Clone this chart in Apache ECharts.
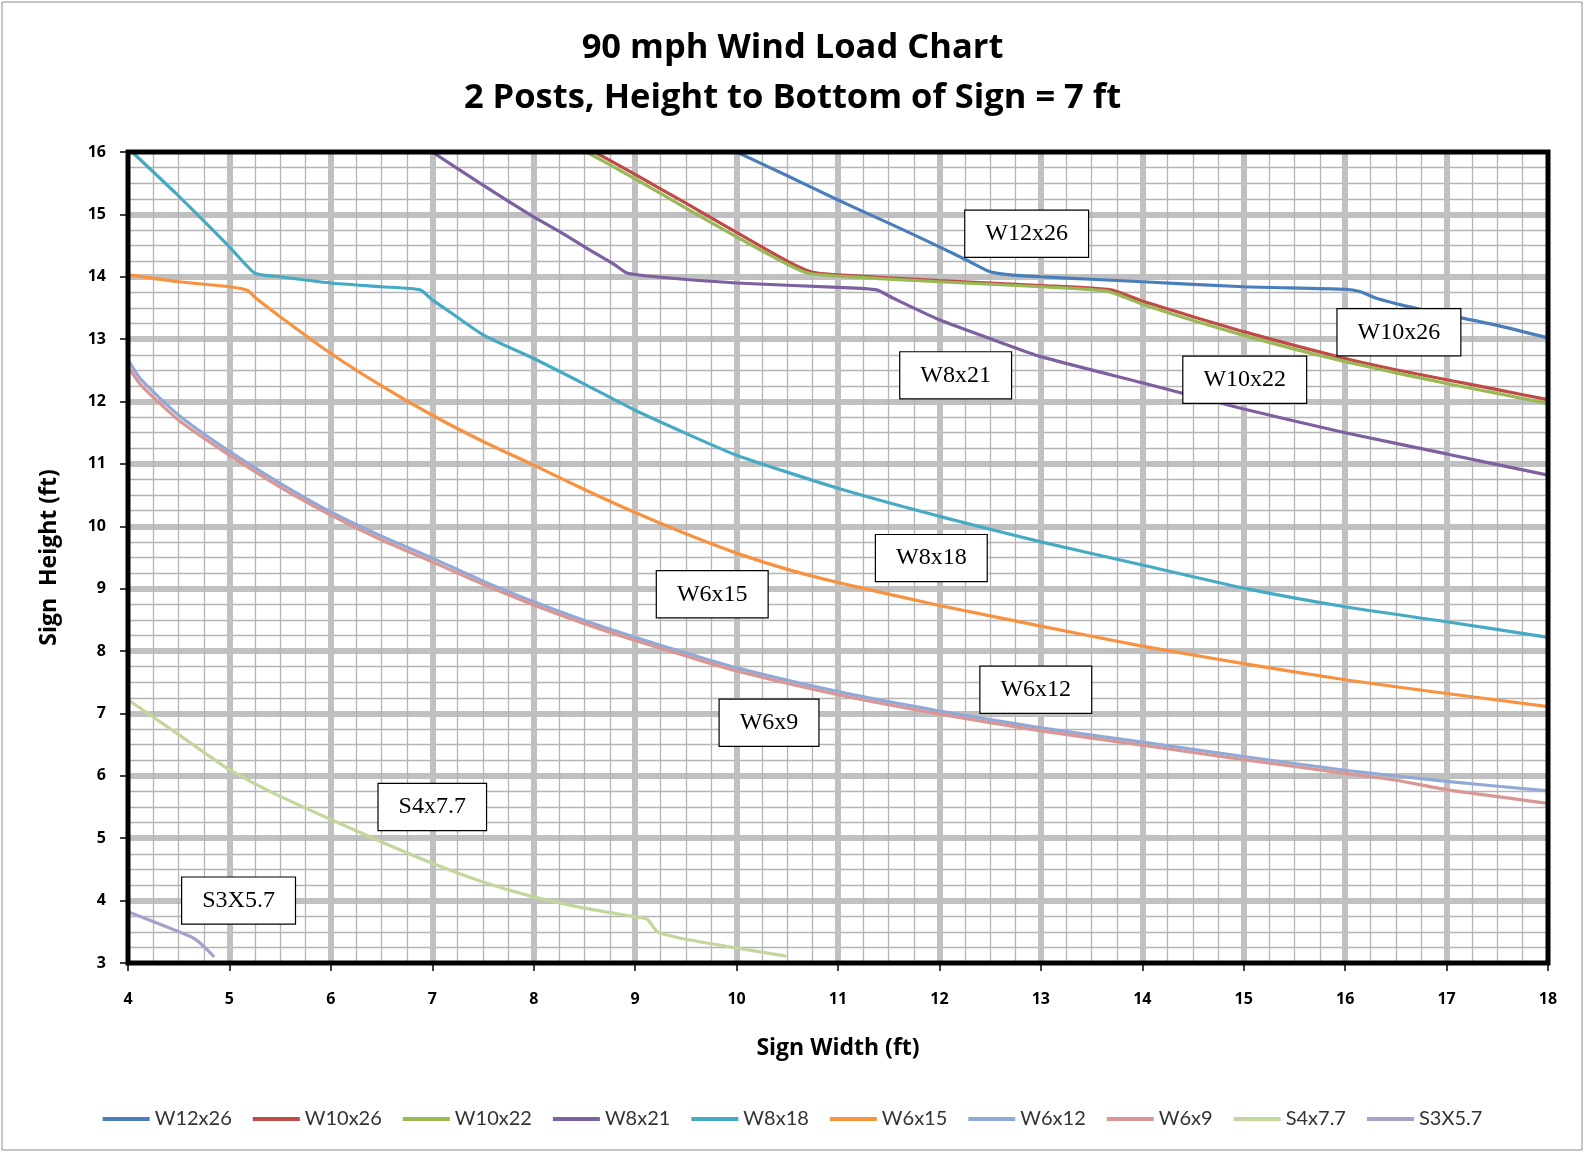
<!DOCTYPE html>
<html>
<head>
<meta charset="utf-8">
<title>90 mph Wind Load Chart</title>
<script src="https://cdn.jsdelivr.net/npm/echarts@6/dist/echarts.min.js"></script>
<style>
    html, body { margin: 0; padding: 0; background: #fff; }
    #chart { width: 1585px; height: 1155px; }
</style>
</head>
<body>
<div id="chart"></div>
<script>
// sign width (ft), sign height (ft) pairs
const names = ['W12x26', 'W10x26', 'W10x22', 'W8x21', 'W8x18', 'W6x15', 'W6x12', 'W6x9', 'S4x7.7', 'S3X5.7'];

const w12x26 = [[10, 16], [10.5, 15.62], [11, 15.23], [11.5, 14.86], [12, 14.48], [12.3, 14.24], [12.5, 14.08], [12.7, 14.03], [13, 14.0], [13.5, 13.96], [14, 13.92], [15, 13.84], [16, 13.8], [16.15, 13.76], [16.3, 13.66], [16.6, 13.53], [17, 13.39], [17.5, 13.22], [18, 13.02]];
const w10x26 = [[8.6, 16.0], [9, 15.64], [9.5, 15.18], [10, 14.71], [10.5, 14.25], [10.75, 14.07], [11, 14.03], [12, 13.94], [13, 13.86], [13.69, 13.79], [14, 13.61], [14.5, 13.36], [15, 13.12], [15.5, 12.9], [16, 12.69], [16.5, 12.51], [17, 12.35], [17.5, 12.19], [18, 12.03]];
const w10x22 = [[8.52, 16.0], [9, 15.57], [9.5, 15.1], [10, 14.64], [10.5, 14.2], [10.7, 14.06], [11, 14.01], [12, 13.92], [13, 13.84], [13.65, 13.77], [14, 13.56], [14.5, 13.3], [15, 13.06], [15.5, 12.84], [16, 12.64], [16.5, 12.46], [17, 12.29], [17.5, 12.13], [18, 11.97]];
const w8x21 = [[7, 16], [7.5, 15.47], [8, 14.96], [8.26, 14.72], [8.5, 14.48], [8.8, 14.19], [8.92, 14.06], [9.2, 14.0], [10, 13.9], [11, 13.83], [11.38, 13.79], [11.54, 13.66], [12, 13.31], [12.53, 12.99], [13, 12.72], [14, 12.3], [15, 11.88], [16, 11.5], [17, 11.16], [18, 10.82]];
const w8x18 = [[4.04, 16.0], [4.47, 15.34], [5, 14.48], [5.25, 14.06], [5.5, 14.0], [6, 13.9], [6.5, 13.84], [6.88, 13.79], [7, 13.63], [7.17, 13.44], [7.5, 13.07], [8, 12.69], [8.5, 12.28], [9, 11.86], [9.5, 11.49], [10, 11.14], [11, 10.61], [12, 10.16], [13, 9.75], [14, 9.38], [15, 9.01], [16, 8.71], [17, 8.47], [18, 8.22]];
const w6x15 = [[4, 14.03], [4.5, 13.92], [5, 13.84], [5.18, 13.78], [5.26, 13.66], [5.5, 13.36], [6, 12.77], [6.5, 12.25], [7, 11.78], [7.5, 11.36], [8, 10.98], [8.5, 10.59], [9, 10.22], [9.5, 9.88], [10, 9.57], [10.5, 9.31], [11, 9.1], [12, 8.73], [13, 8.4], [14, 8.08], [15, 7.8], [16, 7.54], [17, 7.32], [18, 7.11]];
const w6x12 = [[4, 12.67], [4.13, 12.35], [4.5, 11.78], [5, 11.2], [5.5, 10.69], [6, 10.23], [6.5, 9.84], [7, 9.49], [7.5, 9.12], [8, 8.79], [8.5, 8.49], [9, 8.22], [9.5, 7.97], [10, 7.73], [11, 7.35], [12, 7.04], [13, 6.77], [14, 6.54], [15, 6.31], [16, 6.09], [17, 5.91], [18, 5.76]];
const w6x9 = [[4, 12.56], [4.13, 12.26], [4.5, 11.7], [5, 11.14], [5.5, 10.63], [6, 10.18], [6.5, 9.78], [7, 9.43], [7.5, 9.07], [8, 8.74], [8.5, 8.44], [9, 8.17], [9.5, 7.92], [10, 7.68], [11, 7.3], [12, 6.99], [13, 6.72], [14, 6.49], [15, 6.26], [16, 6.04], [16.5, 5.93], [17, 5.78], [18, 5.56]];
const s4x77 = [[4, 7.22], [4.5, 6.66], [5, 6.1], [5.5, 5.67], [6, 5.3], [6.5, 4.94], [7, 4.6], [7.5, 4.3], [8, 4.06], [8.5, 3.88], [9, 3.74], [9.12, 3.7], [9.22, 3.5], [9.5, 3.38], [10, 3.24], [10.49, 3.11]];
const s3x57 = [[4, 3.82], [4.62, 3.42], [4.71, 3.32], [4.85, 3.1]];

// where each boxed name sits, in chart units
const labelAt = [[12.86, 14.69], [16.53, 13.11], [15.01, 12.35], [12.16, 12.42], [11.92, 9.49], [9.76, 8.91], [12.95, 7.38], [10.32, 6.85], [7.0, 5.5], [5.09, 4.0]];

const seriesData = [w12x26, w10x26, w10x22, w8x21, w8x18, w6x15, w6x12, w6x9, s4x77, s3x57];
const colors = ['#4a7ebb', '#be4b48', '#98b954', '#7d60a0', '#46aac5', '#f69240', '#91a9d6', '#d99694', '#c3d69b', '#aa9fc8'];

const chart = echarts.init(document.getElementById('chart'));

const series = names.map((name, i) => ({
    name: name,
    type: 'line',
    data: seriesData[i],
    symbol: 'none',
    smooth: 0.2,
    lineStyle: { width: 3.2, color: colors[i] },
    itemStyle: { color: colors[i] },
    markPoint: {
        silent: true,
        symbol: 'rect',
        symbolSize: 1,
        itemStyle: { color: 'rgba(0,0,0,0)' },
        label: {
            show: true,
            position: 'inside',
            formatter: name,
            fontFamily: 'Liberation Serif',
            fontSize: 24,
            lineHeight: 26,
            color: '#000',
            backgroundColor: '#fff',
            borderColor: '#000',
            borderWidth: 1.2,
            padding: [10, 20]
        },
        data: [{ coord: labelAt[i] }]
    }
}));

const option = {
    animation: false,
    backgroundColor: '#fff',
    color: colors,
    title: {
        text: '90 mph Wind Load Chart\n2 Posts, Height to Bottom of Sign = 7 ft',
        left: 'center',
        top: 18,
        textStyle: {
            fontFamily: 'Open Sans',
            fontWeight: 'bold',
            fontSize: 34.5,
            lineHeight: 50,
            color: '#000'
        }
    },
    graphic: [{
        type: 'rect',
        shape: { x: 2, y: 2, width: 1580, height: 1148 },
        style: { fill: 'none', stroke: '#8c8c8c', lineWidth: 1 },
        silent: true
    }],
    legend: {
        data: names,
        top: 1104,
        left: 'center',
        icon: 'rect',
        itemWidth: 47,
        itemHeight: 4,
        itemGap: 21,
        textStyle: { fontFamily: 'Lato', fontSize: 20, color: '#333' }
    },
    grid: {
        left: 128,
        right: 37,
        top: 152,
        bottom: 192,
        show: true,
        z: 10,
        backgroundColor: 'transparent',
        borderColor: '#000',
        borderWidth: 5
    },
    xAxis: {
        type: 'value',
        min: 4,
        max: 18,
        interval: 1,
        name: 'Sign Width (ft)',
        nameLocation: 'middle',
        nameGap: 74,
        nameTextStyle: { fontFamily: 'Open Sans', fontWeight: 'bold', fontSize: 23, color: '#000' },
        axisLine: { show: false },
        axisTick: { show: true, length: 8, lineStyle: { color: '#000', width: 1.5 } },
        axisLabel: { margin: 28, fontFamily: 'Open Sans', fontWeight: 'bold', fontSize: 16, color: '#000' },
        splitLine: { show: true, showMinLine: false, showMaxLine: false, lineStyle: { color: '#c0c0c0', width: 6 } },
        minorTick: { show: false, splitNumber: 4 },
        minorSplitLine: { show: true, lineStyle: { color: '#b4b4b4', width: 1.3 } }
    },
    yAxis: {
        type: 'value',
        min: 3,
        max: 16,
        interval: 1,
        name: 'Sign  Height (ft)',
        nameLocation: 'middle',
        nameGap: 67,
        nameTextStyle: { fontFamily: 'Open Sans', fontWeight: 'bold', fontSize: 23, color: '#000' },
        axisLine: { show: false },
        axisTick: { show: true, length: 8, lineStyle: { color: '#000', width: 1.5 } },
        axisLabel: { margin: 22, fontFamily: 'Open Sans', fontWeight: 'bold', fontSize: 16, color: '#000' },
        splitLine: { show: true, showMinLine: false, showMaxLine: false, lineStyle: { color: '#c0c0c0', width: 6 } },
        minorTick: { show: false, splitNumber: 4 },
        minorSplitLine: { show: true, lineStyle: { color: '#b4b4b4', width: 1.3 } }
    },
    series: series
};

chart.setOption(option);
</script>
</body>
</html>
